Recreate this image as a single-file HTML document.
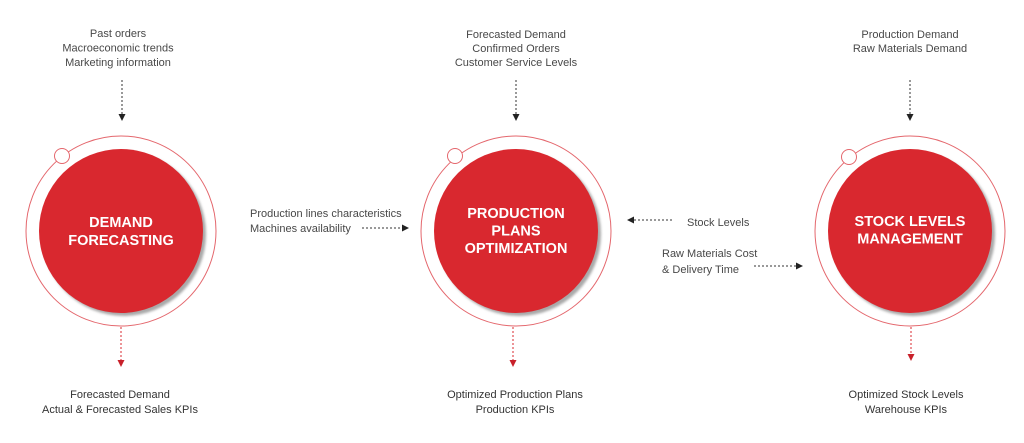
<!DOCTYPE html>
<html>
<head>
<meta charset="utf-8">
<style>
  html, body { margin:0; padding:0; background:#ffffff; }
  body { width:1024px; height:443px; overflow:hidden; }
  svg { display:block; }
  .t { font-family:"Liberation Sans", sans-serif; font-size:11px; fill:#484848; }
  .b { font-family:"Liberation Sans", sans-serif; font-size:11px; fill:#333333; }
  .h { font-family:"Liberation Sans", sans-serif; font-size:14.5px; font-weight:bold; fill:#ffffff; }
</style>
</head>
<body>
<svg width="1024" height="443" viewBox="0 0 1024 443" xmlns="http://www.w3.org/2000/svg">
  <defs>
    <filter id="sh" x="-20%" y="-20%" width="140%" height="140%">
      <feGaussianBlur stdDeviation="1.2"/>
    </filter>
  </defs>
  <rect width="1024" height="443" fill="#ffffff"/>

  <!-- LEFT CIRCLE -->
  <circle cx="121" cy="231" r="95" fill="none" stroke="#e4676d" stroke-width="1"/>
  <circle cx="124" cy="234" r="82" fill="#a9a9a9" filter="url(#sh)"/>
  <circle cx="121" cy="231" r="82" fill="#d9282f"/>
  <circle cx="62" cy="156" r="7.5" fill="#ffffff" stroke="#e4676d" stroke-width="1"/>
  <text class="h" x="121" y="227" text-anchor="middle">DEMAND</text>
  <text class="h" x="121" y="245" text-anchor="middle">FORECASTING</text>

  <!-- MIDDLE CIRCLE -->
  <circle cx="516" cy="231" r="95" fill="none" stroke="#e4676d" stroke-width="1"/>
  <circle cx="519" cy="234" r="82" fill="#a9a9a9" filter="url(#sh)"/>
  <circle cx="516" cy="231" r="82" fill="#d9282f"/>
  <circle cx="455" cy="156" r="7.5" fill="#ffffff" stroke="#e4676d" stroke-width="1"/>
  <text class="h" x="516" y="218" text-anchor="middle">PRODUCTION</text>
  <text class="h" x="516" y="235.5" text-anchor="middle">PLANS</text>
  <text class="h" x="516" y="253" text-anchor="middle">OPTIMIZATION</text>

  <!-- RIGHT CIRCLE -->
  <circle cx="910" cy="231" r="95" fill="none" stroke="#e4676d" stroke-width="1"/>
  <circle cx="913" cy="234" r="82" fill="#a9a9a9" filter="url(#sh)"/>
  <circle cx="910" cy="231" r="82" fill="#d9282f"/>
  <circle cx="849" cy="157" r="7.5" fill="#ffffff" stroke="#e4676d" stroke-width="1"/>
  <text class="h" x="910" y="226" text-anchor="middle">STOCK LEVELS</text>
  <text class="h" x="910" y="243.5" text-anchor="middle">MANAGEMENT</text>

  <!-- TOP TEXTS -->
  <text class="t" x="118" y="37" text-anchor="middle">Past orders</text>
  <text class="t" x="118" y="51.5" text-anchor="middle">Macroeconomic trends</text>
  <text class="t" x="118" y="66" text-anchor="middle">Marketing information</text>

  <text class="t" x="516" y="38" text-anchor="middle">Forecasted Demand</text>
  <text class="t" x="516" y="52" text-anchor="middle">Confirmed Orders</text>
  <text class="t" x="516" y="66" text-anchor="middle">Customer Service Levels</text>

  <text class="t" x="910" y="38" text-anchor="middle">Production Demand</text>
  <text class="t" x="910" y="52" text-anchor="middle">Raw Materials Demand</text>

  <!-- TOP ARROWS -->
  <g stroke="#333" stroke-width="1" stroke-dasharray="2,2" fill="none">
    <line x1="122" y1="80" x2="122" y2="114"/>
    <line x1="516" y1="80" x2="516" y2="114"/>
    <line x1="910" y1="80" x2="910" y2="114"/>
  </g>
  <g fill="#222">
    <polygon points="118.5,114 125.5,114 122,121"/>
    <polygon points="512.5,114 519.5,114 516,121"/>
    <polygon points="906.5,114 913.5,114 910,121"/>
  </g>

  <!-- BOTTOM RED ARROWS -->
  <g stroke="#d9282f" stroke-width="1" stroke-dasharray="2,2" fill="none">
    <line x1="121" y1="327" x2="121" y2="360"/>
    <line x1="513" y1="327" x2="513" y2="360"/>
    <line x1="911" y1="327" x2="911" y2="354"/>
  </g>
  <g fill="#c8202a">
    <polygon points="117.5,360 124.5,360 121,367"/>
    <polygon points="509.5,360 516.5,360 513,367"/>
    <polygon points="907.5,354 914.5,354 911,361"/>
  </g>

  <!-- BOTTOM TEXTS -->
  <text class="b" x="120" y="398" text-anchor="middle">Forecasted Demand</text>
  <text class="b" x="120" y="413" text-anchor="middle">Actual &amp; Forecasted Sales KPIs</text>

  <text class="b" x="515" y="398" text-anchor="middle">Optimized Production Plans</text>
  <text class="b" x="515" y="413" text-anchor="middle">Production KPIs</text>

  <text class="b" x="906" y="398" text-anchor="middle">Optimized Stock Levels</text>
  <text class="b" x="906" y="413" text-anchor="middle">Warehouse KPIs</text>

  <!-- SIDE LABELS -->
  <text class="t" x="250" y="217">Production lines characteristics</text>
  <text class="t" x="250" y="232">Machines availability</text>
  <line x1="362" y1="228" x2="402" y2="228" stroke="#333" stroke-width="1" stroke-dasharray="2,2"/>
  <polygon points="402,224.5 402,231.5 409,228" fill="#222"/>

  <text class="t" x="687" y="226">Stock Levels</text>
  <line x1="634" y1="220" x2="674" y2="220" stroke="#333" stroke-width="1" stroke-dasharray="2,2"/>
  <polygon points="634,216.5 634,223.5 627,220" fill="#222"/>

  <text class="t" x="662" y="257">Raw Materials Cost</text>
  <text class="t" x="662" y="273">&amp; Delivery Time</text>
  <line x1="754" y1="266" x2="796" y2="266" stroke="#333" stroke-width="1" stroke-dasharray="2,2"/>
  <polygon points="796,262.5 796,269.5 803,266" fill="#222"/>
</svg>
</body>
</html>
